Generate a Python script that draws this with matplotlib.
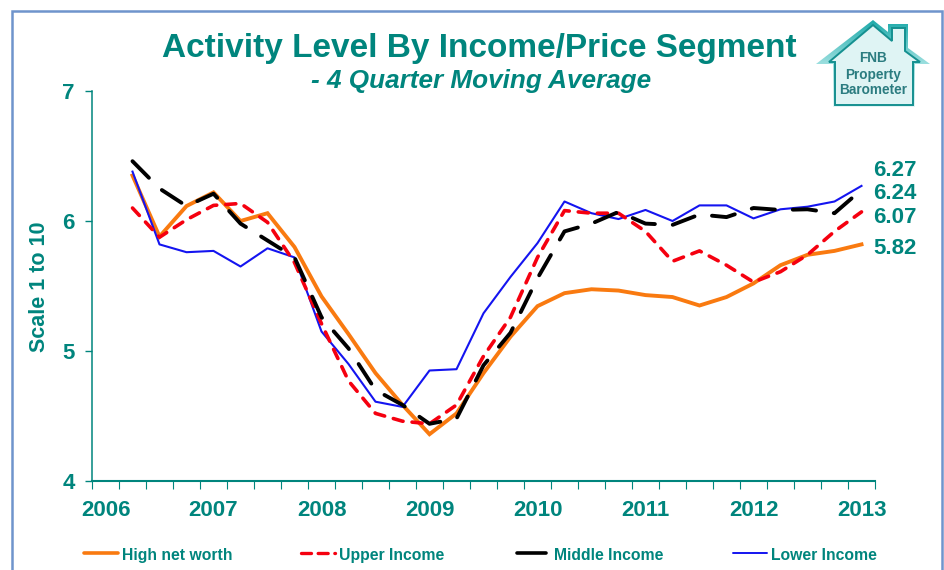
import numpy as np
import matplotlib
matplotlib.use("Agg")
import matplotlib.pyplot as plt
from matplotlib.lines import Line2D
from matplotlib.patches import Polygon, Rectangle

plt.rcParams['font.family'] = ['Liberation Sans', 'DejaVu Sans']

years = ['2006', '2007', '2008', '2009', '2010', '2011', '2012', '2013']
yticks = [4, 5, 6, 7]

# quarterly points, first quarter after the 2006 tick up to 2013
high_net = [6.35, 5.88, 6.115, 6.22, 6.00, 6.06, 5.80, 5.42, 5.13, 4.83, 4.585, 4.36, 4.52, 4.83,
            5.11, 5.345, 5.445, 5.475, 5.465, 5.43, 5.415, 5.35, 5.415, 5.52, 5.66, 5.74, 5.77, 5.82]
upper = [6.10, 5.875, 6.01, 6.12, 6.135, 5.99, 5.68, 5.21, 4.77, 4.52, 4.46, 4.44, 4.585, 4.96,
         5.26, 5.72, 6.08, 6.06, 6.06, 5.92, 5.69, 5.77, 5.66, 5.53, 5.61, 5.74, 5.92, 6.07]
middle = [6.46, 6.25, 6.115, 6.21, 5.98, 5.85, 5.72, 5.26, 5.02, 4.70, 4.585, 4.44, 4.48, 4.89,
          5.14, 5.56, 5.92, 5.98, 6.07, 5.98, 5.97, 6.05, 6.03, 6.10, 6.085, 6.09, 6.06, 6.24]
lower = [6.38, 5.82, 5.76, 5.77, 5.65, 5.79, 5.72, 5.15, 4.90, 4.61, 4.57, 4.85, 4.86, 5.29,
         5.57, 5.83, 6.15, 6.06, 6.015, 6.085, 6.00, 6.12, 6.12, 6.02, 6.09, 6.11, 6.15, 6.27]
end_labels = ['6.27', '6.24', '6.07', '5.82']

teal = '#00857d'
W, H = 945, 570


def fx(px):
    return px / W


def fy(py):
    return 1 - py / H


fig = plt.figure(figsize=(9.45, 5.7), dpi=100, facecolor='white')

# outer frame
fig.add_artist(Rectangle((fx(11.5), fy(575)), fx(931), fy(10.5) - fy(575), transform=fig.transFigure,
                         fill=False, ec='#6f94cc', lw=1.8))

ax = fig.add_axes([fx(92), fy(481), fx(783), fy(91) - fy(481)])
x = np.arange(1, 29)
ax.plot(x, high_net, color='#f97a10', lw=2.8, solid_joinstyle='miter', zorder=2)
ax.plot(x, lower, color='#1414f0', lw=1.5, zorder=3)
ax.plot(x, upper, color='#f5000f', lw=2.6, linestyle=(0, (2.8, 2.5)), dash_capstyle='round', zorder=4)
ax.plot(x, middle, color='black', lw=2.8, linestyle=(0, (6.0, 4.6)), dash_capstyle='round', zorder=5)

ax.set_xlim(-0.5, 28.5)
ax.set_ylim(4, 7)
ax.set_yticks(yticks)
ax.set_xticks(np.arange(0, 29, 4))
ax.set_xticklabels(years)
ax.set_xticks(np.arange(-0.5, 29, 1), minor=True)
ax.tick_params(axis='x', which='major', length=0, pad=14, labelsize=16, labelcolor=teal)
ax.tick_params(axis='x', which='minor', length=6, width=0.8, color=teal)
ax.tick_params(axis='y', length=5, width=1, color=teal, pad=7.5, labelsize=16, labelcolor=teal)
for lab in ax.get_xticklabels() + ax.get_yticklabels():
    lab.set_fontweight('bold')
for s in ['top', 'right']:
    ax.spines[s].set_visible(False)
ax.spines['left'].set_color(teal)
ax.spines['left'].set_linewidth(1.1)
ax.spines['bottom'].set_color(teal)
ax.spines['bottom'].set_linewidth(1.5)
ax.patch.set_alpha(0)

fig.text(fx(40), fy(287), 'Scale 1 to 10', rotation=90, color=teal, fontsize=15.5, fontweight='bold',
         ha='center', va='center')

fig.text(fx(479), fy(49), 'Activity Level By Income/Price Segment', color=teal, fontsize=24,
         fontweight='bold', ha='center', va='center')
fig.text(fx(481), fy(81), '- 4 Quarter Moving Average', color=teal, fontsize=18.8, fontweight='bold',
         fontstyle='italic', ha='center', va='center')

# values at the end of the lines
for lab, py in zip(end_labels, [170, 194, 217, 248]):
    fig.text(fx(873), fy(py), lab, color=teal, fontsize=16, fontweight='bold', ha='left', va='center')

# legend, spaced out by hand like the original
legend_names = ['High net worth', 'Upper Income', 'Middle Income', 'Lower Income']
legend_colors = ['#f97a10', '#f5000f', 'black', '#1414f0']
legend_lw = [2.6, 2.4, 2.6, 1.4]
legend_ls = ['-', (0, (3.0, 2.0)), '-', '-']
legend_x = [(84, 118, 122), (301, 335, 339), (517, 546, 554), (733, 767, 771)]
for name, c, lw, ls, (a, b, t) in zip(legend_names, legend_colors, legend_lw, legend_ls, legend_x):
    fig.add_artist(Line2D([fx(a), fx(b)], [fy(553), fy(553)], color=c, lw=lw, linestyle=ls,
                          dash_capstyle='round', solid_capstyle='round', transform=fig.transFigure))
    fig.text(fx(t), fy(560), name, color=teal, fontsize=11.3, fontweight='bold', ha='left', va='baseline')

# house logo
logo = fig.add_axes([0, 0, 1, 1], zorder=6)
logo.axis('off')
outline = [(816, 64), (873, 20), (888, 32), (888, 24), (908, 24), (908, 48), (930, 64), (915, 64),
           (915, 107), (833, 107), (833, 64)]
house = Polygon(outline, closed=True, fc='none', ec='none')
logo.add_patch(house)
grad = np.linspace(0, 1, 100).reshape(-1, 1)
cmap = matplotlib.colors.LinearSegmentedColormap.from_list('h', ['#18a8a8', '#9adede', '#e4f6f6'])
im = logo.imshow(grad, extent=(810, 935, 108, 18), cmap=cmap, aspect='auto')
logo.set_xlim(0, W)
logo.set_ylim(H, 0)
im.set_clip_path(house)
inner = [(829, 62), (873, 25), (892, 41), (892, 28), (905, 28), (905, 51), (920, 62), (913, 62),
         (913, 105), (835, 105), (835, 62)]
logo.add_patch(Polygon(inner, closed=True, fc='#dff4f4', ec='#159090', lw=1.4))
logo.text(873, 58, 'FNB', color='#2b7c80', fontsize=9.8, fontweight='bold', ha='center', va='center')
logo.text(873, 75, 'Property', color='#2b7c80', fontsize=9.8, fontweight='bold', ha='center', va='center')
logo.text(873, 90, 'Barometer', color='#2b7c80', fontsize=9.8, fontweight='bold', ha='center', va='center')

fig.savefig('out.png', dpi=100)
